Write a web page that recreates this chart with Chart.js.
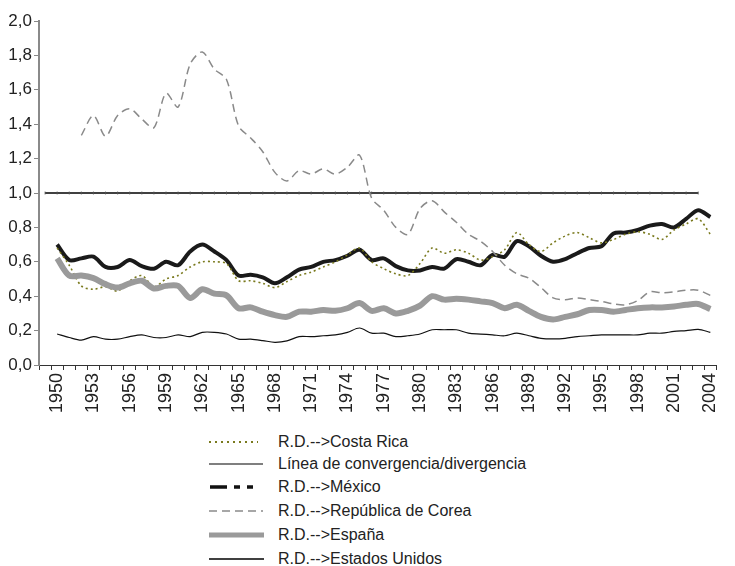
<!DOCTYPE html>
<html>
<head>
<meta charset="utf-8">
<script src="https://cdn.jsdelivr.net/npm/chart.js@4/dist/chart.umd.min.js"></script>
<style>
    body { margin: 0; background: #fff; font-family: "Liberation Sans", Arial, sans-serif; }
    #wrap { position: relative; width: 735px; height: 566px; }
    #legend { position: absolute; left: 0; top: 432px; width: 735px; }
    .row { position: absolute; left: 208px; height: 20px; display: flex; align-items: center; }
    .row svg { width: 58px; height: 10px; }
    .row span { position: absolute; left: 70px; white-space: nowrap; font-size: 16px; color: #222; }
</style>
</head>
<body>
<div id="wrap">
    <canvas id="lineChart" width="735" height="430"></canvas>
    <div id="legend"></div>
</div>
<script>
const years = [1949,
    1950, 1951, 1952, 1953, 1954, 1955, 1956, 1957, 1958, 1959,
    1960, 1961, 1962, 1963, 1964, 1965, 1966, 1967, 1968, 1969,
    1970, 1971, 1972, 1973, 1974, 1975, 1976, 1977, 1978, 1979,
    1980, 1981, 1982, 1983, 1984, 1985, 1986, 1987, 1988, 1989,
    1990, 1991, 1992, 1993, 1994, 1995, 1996, 1997, 1998, 1999,
    2000, 2001, 2002, 2003, 2004];

const yTicks = [0, 0.2, 0.4, 0.6, 0.8, 1.0, 1.2, 1.4, 1.6, 1.8, 2.0];

// series start years and values
const costaRicaStart = 1950;
const costaRica = [
    0.68, 0.58, 0.46, 0.44, 0.455, 0.43, 0.49, 0.52, 0.455, 0.50,
    0.52, 0.57, 0.60, 0.60, 0.59, 0.49, 0.49, 0.475, 0.45, 0.485,
    0.52, 0.54, 0.57, 0.60, 0.64, 0.68, 0.60, 0.56, 0.53, 0.52,
    0.59, 0.68, 0.65, 0.67, 0.65, 0.61, 0.63, 0.67, 0.77, 0.70,
    0.66, 0.71, 0.75, 0.77, 0.74, 0.71, 0.73, 0.76, 0.775, 0.76,
    0.73, 0.785, 0.82, 0.85, 0.76];

const convergenceStart = 1949;
const convergenceEnd = 2003;
const convergenceLevel = 1.0;

const mexicoStart = 1950;
const mexico = [
    0.70, 0.61, 0.62, 0.63, 0.57, 0.57, 0.61, 0.575, 0.56, 0.60,
    0.58, 0.66, 0.70, 0.66, 0.61, 0.52, 0.525, 0.51, 0.475, 0.51,
    0.555, 0.57, 0.60, 0.61, 0.635, 0.67, 0.61, 0.62, 0.575, 0.55,
    0.55, 0.57, 0.56, 0.615, 0.60, 0.58, 0.64, 0.63, 0.72, 0.69,
    0.635, 0.60, 0.615, 0.65, 0.68, 0.69, 0.765, 0.77, 0.785, 0.81,
    0.82, 0.80, 0.85, 0.90, 0.86];

const koreaStart = 1952;
const korea = [
    1.335, 1.45, 1.33, 1.45, 1.49, 1.43, 1.38, 1.58,
    1.50, 1.75, 1.82, 1.72, 1.66, 1.39, 1.32, 1.24, 1.12, 1.07,
    1.13, 1.11, 1.14, 1.11, 1.15, 1.22, 0.97, 0.90, 0.80, 0.76,
    0.91, 0.955, 0.89, 0.83, 0.76, 0.72, 0.66, 0.58, 0.53, 0.505,
    0.45, 0.39, 0.38, 0.39, 0.38, 0.37, 0.355, 0.35, 0.375, 0.425,
    0.42, 0.425, 0.435, 0.435, 0.405];

const spainStart = 1950;
const spain = [
    0.62, 0.52, 0.52, 0.505, 0.47, 0.45, 0.475, 0.49, 0.445, 0.46,
    0.46, 0.39, 0.44, 0.415, 0.405, 0.33, 0.335, 0.31, 0.29, 0.28,
    0.31, 0.31, 0.32, 0.315, 0.33, 0.36, 0.315, 0.33, 0.30, 0.315,
    0.345, 0.40, 0.38, 0.385, 0.38, 0.37, 0.36, 0.33, 0.35, 0.315,
    0.28, 0.265, 0.28, 0.295, 0.32, 0.32, 0.31, 0.32, 0.33, 0.335,
    0.335, 0.34, 0.35, 0.355, 0.325];

const usaStart = 1950;
const usa = [
    0.18, 0.16, 0.145, 0.165, 0.15, 0.15, 0.165, 0.175, 0.16, 0.16,
    0.175, 0.165, 0.19, 0.19, 0.18, 0.15, 0.15, 0.142, 0.132, 0.14,
    0.165, 0.165, 0.17, 0.175, 0.19, 0.215, 0.185, 0.185, 0.165, 0.17,
    0.18, 0.205, 0.205, 0.205, 0.185, 0.18, 0.175, 0.17, 0.185, 0.17,
    0.155, 0.152, 0.155, 0.165, 0.17, 0.175, 0.175, 0.175, 0.175, 0.185,
    0.185, 0.195, 0.20, 0.207, 0.19];

const seriesNames = [
    "R.D.-->Costa Rica",
    "Línea de convergencia/divergencia",
    "R.D.-->México",
    "R.D.-->República de Corea",
    "R.D.-->España",
    "R.D.-->Estados Unidos"
];

// line up a series with the year axis
function alignToYears(start, values) {
    return years.map(y => {
        const i = y - start;
        return i >= 0 && i < values.length ? values[i] : null;
    });
}

const convergence = years.map(y => (y >= convergenceStart && y <= convergenceEnd) ? convergenceLevel : null);

Chart.defaults.font.family = '"Liberation Sans", Arial, sans-serif';
Chart.defaults.color = "#222";

const base = { pointRadius: 0, tension: 0.3, fill: false, spanGaps: false };

new Chart(document.getElementById("lineChart"), {
    type: "line",
    data: {
        labels: years,
        datasets: [
            { ...base, label: seriesNames[5], data: alignToYears(usaStart, usa), borderColor: "#111", borderWidth: 1.2 },
            { ...base, label: seriesNames[4], data: alignToYears(spainStart, spain), borderColor: "#9a9a9a", borderWidth: 6 },
            { ...base, label: seriesNames[3], data: alignToYears(koreaStart, korea), borderColor: "#8a8a8a", borderWidth: 1.5, borderDash: [8, 5] },
            { ...base, label: seriesNames[0], data: alignToYears(costaRicaStart, costaRica), borderColor: "#7a7a1e", borderWidth: 1.6, borderDash: [2, 3] },
            { ...base, label: seriesNames[2], data: alignToYears(mexicoStart, mexico), borderColor: "#1a1a1a", borderWidth: 4 },
            { label: seriesNames[1], data: convergence, borderColor: "#000", borderWidth: 1.5, tension: 0,
              pointStyle: "line", pointRotation: 90, pointRadius: 1.5, pointBorderColor: "#555", pointBorderWidth: 0.8 }
        ]
    },
    options: {
        responsive: false,
        animation: false,
        layout: { padding: { top: 21, right: 8, left: 0, bottom: 0 } },
        plugins: { legend: { display: false }, tooltip: { enabled: false } },
        scales: {
            x: {
                offset: true,
                grid: { offset: true, drawOnChartArea: false, tickLength: 5, color: "#333" },
                border: { color: "#333", width: 1 },
                ticks: {
                    autoSkip: false,
                    maxRotation: 90,
                    minRotation: 90,
                    padding: 3,
                    font: { size: 18 },
                    callback: function(value) {
                        const yr = years[value];
                        return yr % 3 === 0 ? String(yr) : "";
                    }
                },
                afterFit: function(scale) { scale.height = 65; }
            },
            y: {
                min: 0,
                max: 2,
                afterBuildTicks: function(scale) { scale.ticks = yTicks.map(v => ({ value: v })); },
                grid: { drawOnChartArea: false, tickLength: 5, color: "#888" },
                border: { color: "#8a8a8a", width: 2 },
                ticks: {
                    padding: 2,
                    font: { size: 17 },
                    callback: v => v.toFixed(1).replace(".", ",")
                },
                afterFit: function(scale) { scale.width = 39; }
            }
        }
    }
});

// legend kept as a vertical list like the original
const legendSamples = [
    '<line x1="1" y1="5" x2="50" y2="5" stroke="#7a7a1e" stroke-width="2" stroke-dasharray="2,4"/>',
    '<line x1="1" y1="5" x2="55" y2="5" stroke="#000" stroke-width="1.2"/>',
    '<line x1="2" y1="5" x2="56" y2="5" stroke="#111" stroke-width="3.5" stroke-dasharray="17,7,6,7,6,20"/>',
    '<line x1="1" y1="5" x2="55" y2="5" stroke="#8a8a8a" stroke-width="1.5" stroke-dasharray="8,5"/>',
    '<line x1="1" y1="5" x2="56" y2="5" stroke="#9a9a9a" stroke-width="5"/>',
    '<line x1="1" y1="5" x2="56" y2="5" stroke="#000" stroke-width="1.4"/>'
];
const legendRowTops = [0, 22, 45, 69, 93, 117];

const legend = document.getElementById("legend");
seriesNames.forEach((name, i) => {
    const row = document.createElement("div");
    row.className = "row";
    row.style.top = legendRowTops[i] + "px";
    row.innerHTML = '<svg viewBox="0 0 58 10">' + legendSamples[i] + '</svg><span>' + name + '</span>';
    legend.appendChild(row);
});
</script>
</body>
</html>
